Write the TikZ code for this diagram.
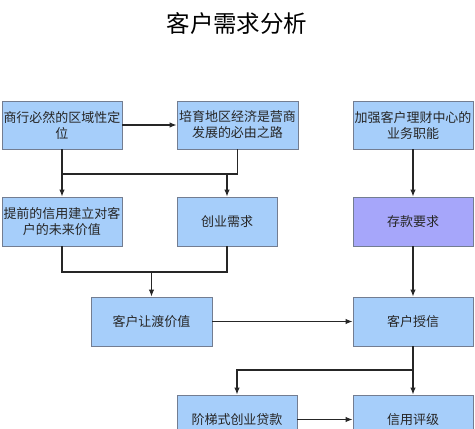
\documentclass[tikz,border=0pt]{standalone}
\usepackage{fontspec}
\setmainfont{Noto Sans CJK SC}
\usepackage{xcolor}
\definecolor{blu}{RGB}{166, 206, 250}
\definecolor{pur}{RGB}{166, 166, 250}
\definecolor{edg}{RGB}{115, 125, 145}
\usetikzlibrary{arrows.meta}

\begin{document}
\begin{tikzpicture}[x=1pt, y=-1pt,
    box/.style={draw=edg, line width=0.9pt, fill=blu, minimum width=120pt,
      minimum height=48pt, inner sep=0pt, align=center,
      font=\fontsize{13}{16}\selectfont, text=black!85},
    link/.style={line width=1.1pt, black!85},
    arr/.style={link, -{Latex[length=7pt, width=5.5pt]}}]
      \useasboundingbox (0,0) rectangle (475,429);
      \clip (0,0) rectangle (475,429);
      \node (title) at (237,24) {\fontsize{23.5}{28}\selectfont 客户需求分析};
      \node[box] (b1) at (62,125) {商行必然的区域性定\\位};
      \node[box, minimum width=121pt] (b2) at (237.5,125) {培育地区经济是营商\\发展的必由之路};
      \node[box] (b3) at (413,125) {加强客户理财中心的\\业务职能};
      \node[box, minimum height=49pt] (b4) at (62,221.5) {提前的信用建立对客\\户的未来价值};
      \node[box, minimum width=100pt, minimum height=49pt] (b5) at (227,221.5) {创业需求};
      \node[box, fill=pur, minimum height=49pt] (b6) at (413,221.5) {存款要求};
      \node[box, minimum width=121pt, minimum height=49pt] (b7) at (151.5,321.5) {客户让渡价值};
      \node[box, minimum height=49pt] (b8) at (413,321.5) {客户授信};
      \node[box, minimum height=49pt] (b9) at (237,419.5) {阶梯式创业贷款};
      \node[box, minimum height=49pt] (b10) at (413,419.5) {信用评级};
      \coordinate (ja) at (62,174);
      \coordinate (jb) at (62,272);
      \coordinate (jc) at (413,370);
      \draw[arr] (b1.east) -- (b2.west);
      \draw[link] (b1.south) -- (ja) -- (ja -| b2.south) -- (b2.south);
      \draw[arr] (ja) -- (b4.north);
      \draw[arr] (ja -| b5.north) -- (b5.north);
      \draw[arr] (b3.south) -- (b6.north);
      \draw[link] (b4.south) -- (jb) -- (jb -| b5.south) -- (b5.south);
      \draw[arr] (jb -| b7.north) -- (b7.north);
      \draw[arr] (b6.south) -- (b8.north);
      \draw[arr] (b7.east) -- (b8.west);
      \draw[arr] (b8.south) -- (b10.north);
      \draw[arr] (jc) -| (b9.north);
      \draw[arr] (b9.east) -- (b10.west);
    \end{tikzpicture}
\end{document}
